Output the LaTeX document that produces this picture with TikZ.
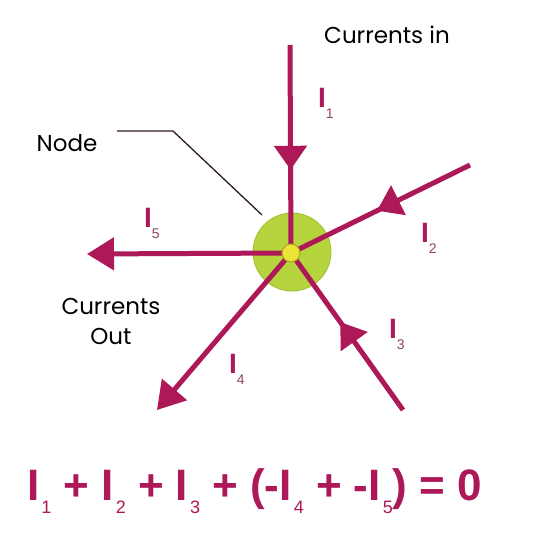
\documentclass[tikz,border=0pt]{standalone}
\usepackage{fontspec}
\setmainfont{Liberation Sans}
\newfontfamily\lblfont{Poppins}
\usetikzlibrary{arrows.meta,decorations.markings}
\definecolor{wirec}{RGB}{172,24,88}
\definecolor{subc}{RGB}{140,70,95}
\definecolor{greenc}{RGB}{182,212,62}
\definecolor{greenl}{RGB}{160,192,50}
\definecolor{yellowc}{RGB}{235,228,55}
\definecolor{yellowl}{RGB}{175,160,30}
\definecolor{pointc}{RGB}{50,25,40}
\newcommand{\Lsub}[1]{\raisebox{-11pt}{\fontsize{14}{14}\selectfont\mdseries\color{subc}#1}}
\newcommand{\Esub}[1]{\kern2pt\raisebox{-13pt}{\fontsize{18}{18}\selectfont\mdseries #1}}
\begin{document}
\begin{tikzpicture}[x=1pt,y=-1pt,
  wire/.style={draw=wirec,line width=5pt},
  endtip/.style={-{Triangle[length=27pt,width=32pt]}},
  midtip/.style={postaction={decorate},decoration={markings,
     mark=at position #1 with {\arrow{Triangle[length=24pt,width=32pt]}}}},
  ilbl/.style={text=wirec,font=\fontsize{28}{28}\selectfont\bfseries,anchor=base west,inner sep=0pt},
  txt/.style={font=\lblfont\fontsize{23}{30}\selectfont,text=black,inner sep=0pt,align=center}]
\useasboundingbox[fill=white] (0,0) rectangle (539,546);
% green node
\node[circle,fill=greenc,draw=greenl,line width=0.8pt,minimum size=78pt,inner sep=0pt] (g) at (292,252) {};
\coordinate (c) at (291,253);
\coordinate (a1) at (290,45);
\coordinate (a2) at (470,165);
\coordinate (a3) at (403,410);
\coordinate (a4) at (157,410);
\coordinate (a5) at (87,254);
\draw[wire,midtip=0.6,wirec] (a1) -- (c);
\draw[wire,midtip=0.52,wirec] (a2) -- (c);
\draw[wire,midtip=0.56,wirec] (a3) -- (c);
\draw[wire,endtip,wirec] (c) -- (a4);
\draw[wire,endtip,wirec] (c) -- (a5);
\node[circle,fill=yellowc,draw=yellowl,line width=1pt,minimum size=18pt,inner sep=0pt] (y) at (c) {};
% Node pointer
\node[txt] (nl) at (67,143) {Node};
\coordinate (p1) at (117,131);
\coordinate (p2) at (173,131);
\coordinate (p3) at (262,215);
\draw[pointc,line width=1.3pt] (p1) -- (p2) -- (p3);
% text labels
\node[txt] (cin) at (387,35) {Currents in};
\node[txt] (cout) at (111,321) {Currents\\Out};
% current labels
\node[ilbl] (l1) at (318,107) {I\Lsub{1}};
\node[ilbl] (l2) at (421,242) {I\Lsub{2}};
\node[ilbl] (l3) at (389,338) {I\Lsub{3}};
\node[ilbl] (l4) at (229,373) {I\Lsub{4}};
\node[ilbl] (l5) at (144,227) {I\Lsub{5}};
% equation
\node[text=wirec,font=\fontsize{44}{44}\selectfont\bfseries,anchor=base west,inner sep=0pt] (eq) at (27,500)
 {I\Esub{1} + I\Esub{2} + I\Esub{3} + (-I\Esub{4} + -I\Esub{5}) = 0};
\end{tikzpicture}
\end{document}
